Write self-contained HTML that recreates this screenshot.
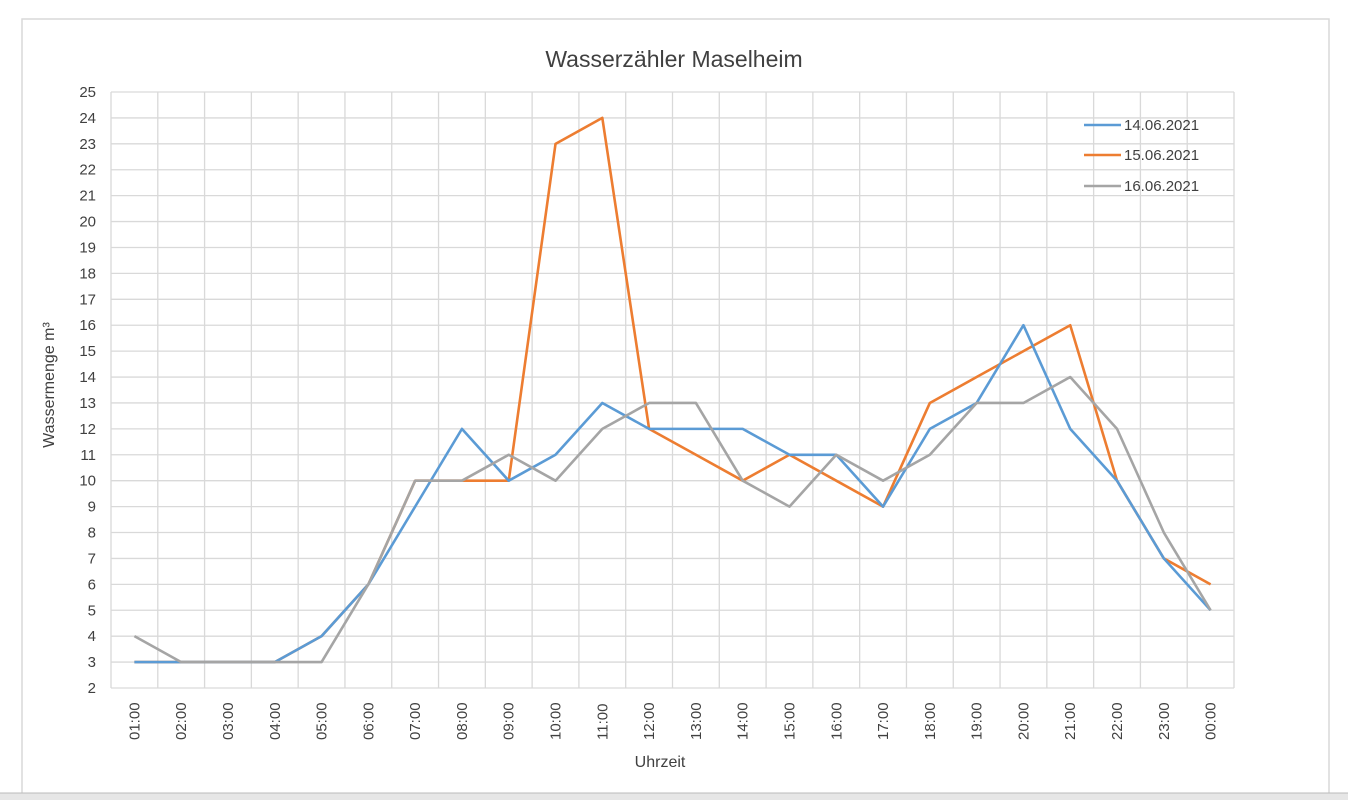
<!DOCTYPE html>
<html><head><meta charset="utf-8"><style>
body{margin:0;background:#fff;width:1348px;height:800px;overflow:hidden;font-family:"Liberation Sans",sans-serif}
</style></head><body>
<svg id="s" width="1348" height="800" xmlns="http://www.w3.org/2000/svg" font-family="Liberation Sans, sans-serif"></svg>
<script>
const s=document.getElementById('s');let h='';
h+='<rect x="22" y="19" width="1307" height="790" fill="#fff" stroke="#d9d9d9" stroke-width="1.5"/>';
const L=111,R=1234,T=92,B=688,u=(B-T)/23,cw=(R-L)/24;
const Y=v=>B-(v-2)*u, X=i=>L+cw*(i+0.5);
for(let v=2;v<=25;v++){h+=`<line x1="${L}" x2="${R}" y1="${Y(v)}" y2="${Y(v)}" stroke="#d9d9d9" stroke-width="1.3"/>`;
h+=`<text x="96" y="${Y(v)+5}" font-size="15" fill="#404040" text-anchor="end">${v}</text>`;}
for(let i=0;i<=24;i++){const x=L+cw*i;h+=`<line x1="${x}" x2="${x}" y1="${T}" y2="${B}" stroke="#d9d9d9" stroke-width="1.3"/>`;}
const lab=[];for(let i=1;i<=24;i++)lab.push(String(i%24).padStart(2,'0')+':00');
lab.forEach((t,i)=>{h+=`<text transform="translate(${X(i)+5},${740}) rotate(-90)" font-size="15" fill="#404040">${t}</text>`;});
const d={'#5b9bd5':[3,3,3,3,4,6,9,12,10,11,13,12,12,12,11,11,9,12,13,16,12,10,7,5],
'#ed7d31':[3,3,3,3,4,6,10,10,10,23,24,12,11,10,11,10,9,13,14,15,16,10,7,6],
'#a5a5a5':[4,3,3,3,3,6,10,10,11,10,12,13,13,10,9,11,10,11,13,13,14,12,8,5]};
for(const c of ['#ed7d31','#5b9bd5','#a5a5a5']){h+=`<polyline fill="none" stroke="${c}" stroke-width="2.6" stroke-linejoin="round" points="${d[c].map((v,i)=>X(i)+','+Y(v)).join(' ')}"/>`;}
h+='<text x="674" y="67" font-size="23" fill="#404040" text-anchor="middle">Wasserzähler Maselheim</text>';
h+='<text x="660" y="767" font-size="16" fill="#404040" text-anchor="middle">Uhrzeit</text>';
h+='<text transform="translate(54,385) rotate(-90)" font-size="16" fill="#404040" text-anchor="middle">Wassermenge  m³</text>';
[['#5b9bd5','14.06.2021',125],['#ed7d31','15.06.2021',155],['#a5a5a5','16.06.2021',186]].forEach(([c,t,y])=>{
h+=`<line x1="1084" x2="1121" y1="${y}" y2="${y}" stroke="${c}" stroke-width="2.6"/><text x="1124" y="${y+5}" font-size="15" fill="#404040">${t}</text>`;});
h+='<rect x="0" y="793" width="1348" height="7" fill="#e6e6e6"/><line x1="0" x2="1348" y1="793" y2="793" stroke="#bbb"/>';
s.innerHTML=h;
</script>
</body></html>
